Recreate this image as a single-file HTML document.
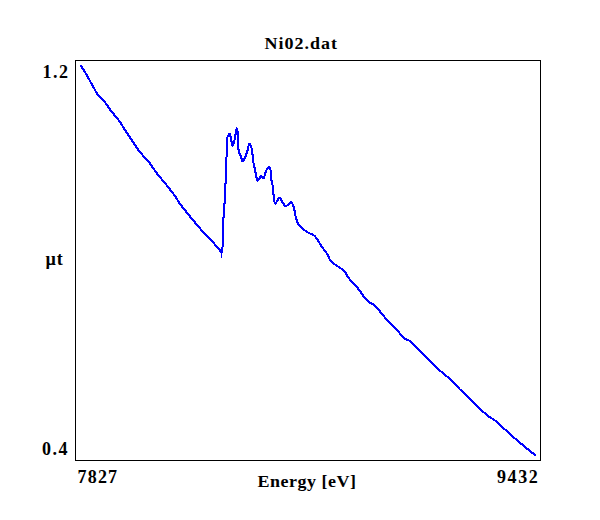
<!DOCTYPE html>
<html><head><meta charset="utf-8"><style>
html,body{margin:0;padding:0;background:#fff;width:600px;height:520px;overflow:hidden}
.t{position:absolute;font-family:"Liberation Serif",serif;font-weight:bold;font-size:18px;line-height:normal;white-space:nowrap;color:#000;transform:scaleY(0.92);transform-origin:0 2px}
svg{position:absolute;left:0;top:0}
</style></head><body>
<svg width="600" height="520" viewBox="0 0 600 520">
<rect x="75.5" y="60.5" width="465" height="400" fill="none" stroke="#000" stroke-width="1" shape-rendering="crispEdges"/>
<polyline points="81.00,66.00 85.00,72.00 90.00,81.00 95.00,90.00 97.50,94.50 102.00,98.50 107.00,105.00 111.00,111.00 117.00,118.00 120.00,122.00 125.00,130.00 131.00,139.00 139.00,151.00 150.00,163.50 158.00,175.00 165.00,183.00 175.00,196.00 180.00,204.00 190.00,216.50 200.00,228.50 212.00,241.00 221.50,252.30 222.00,249.00 223.00,245.50 223.00,218.00 224.00,217.00 224.00,204.00 225.00,203.00 225.00,184.00 226.00,183.00 226.00,158.00 227.00,156.00 227.00,138.00 227.16,137.64 227.39,137.13 227.66,136.53 227.94,135.92 228.23,135.38 228.50,135.00 228.74,134.65 228.96,134.26 229.19,133.93 229.43,133.80 229.69,133.98 230.00,134.60 230.36,135.95 230.78,138.00 231.22,140.37 231.67,142.66 232.10,144.50 232.50,145.50 232.86,145.59 233.21,145.06 233.54,144.07 233.87,142.79 234.18,141.38 234.50,140.00 234.82,138.46 235.15,136.59 235.47,134.59 235.77,132.66 236.05,130.99 236.30,129.80 236.50,129.05 236.67,128.57 236.81,128.37 236.94,128.43 237.07,128.74 237.20,129.30 237.34,130.18 237.48,131.40 237.62,132.87 237.75,134.51 237.88,136.25 238.00,138.00 238.09,139.87 238.15,141.96 238.20,144.14 238.27,146.29 238.40,148.28 238.60,150.00 238.90,151.42 239.29,152.64 239.72,153.71 240.18,154.67 240.61,155.58 241.00,156.50 241.31,157.54 241.56,158.68 241.80,159.77 242.06,160.66 242.38,161.18 242.80,161.20 243.36,160.58 244.04,159.41 244.79,157.89 245.53,156.20 246.22,154.50 246.80,153.00 247.26,151.57 247.65,150.05 247.99,148.53 248.28,147.12 248.55,145.91 248.80,145.00 249.01,144.39 249.16,143.99 249.29,143.79 249.41,143.79 249.58,143.96 249.80,144.30 250.11,144.83 250.49,145.57 250.90,146.48 251.31,147.54 251.69,148.73 252.00,150.00 252.22,151.42 252.39,153.01 252.51,154.73 252.64,156.51 252.79,158.28 253.00,160.00 253.27,161.66 253.57,163.31 253.91,164.97 254.26,166.63 254.63,168.30 255.00,170.00 255.38,171.89 255.76,174.02 256.16,176.16 256.57,178.09 257.02,179.61 257.50,180.50 258.04,180.54 258.63,179.86 259.25,178.76 259.87,177.55 260.46,176.53 261.00,176.00 261.47,176.10 261.91,176.62 262.31,177.32 262.70,177.99 263.09,178.39 263.50,178.30 263.92,177.60 264.33,176.44 264.75,175.03 265.17,173.52 265.58,172.12 266.00,171.00 266.42,170.10 266.85,169.26 267.28,168.53 267.70,167.93 268.11,167.50 268.50,167.30 268.88,167.32 269.26,167.53 269.62,167.92 269.96,168.47 270.26,169.17 270.50,170.00 270.66,171.04 270.74,172.31 270.78,173.73 270.81,175.21 270.88,176.66 271.00,178.00 271.20,179.20 271.44,180.33 271.72,181.44 272.00,182.56 272.27,183.73 272.50,185.00 272.69,186.38 272.85,187.83 273.00,189.34 273.15,190.89 273.31,192.45 273.50,194.00 273.70,195.71 273.91,197.63 274.12,199.56 274.37,201.31 274.66,202.69 275.00,203.50 275.42,203.58 275.93,203.07 276.47,202.17 277.02,201.13 277.54,200.17 278.00,199.50 278.35,199.02 278.61,198.53 278.84,198.11 279.11,197.86 279.48,197.86 280.00,198.20 280.71,199.11 281.57,200.56 282.53,202.26 283.54,203.92 284.54,205.27 285.50,206.00 286.45,205.93 287.43,205.24 288.41,204.22 289.35,203.19 290.23,202.41 291.00,202.20 291.66,202.59 292.24,203.34 292.75,204.36 293.20,205.55 293.62,206.79 294.00,208.00 294.33,209.21 294.57,210.52 294.78,211.89 294.98,213.29 295.21,214.67 295.50,216.00 295.84,217.31 296.20,218.65 296.59,219.97 297.02,221.24 297.48,222.43 298.00,223.50 298.56,224.42 299.15,225.22 299.78,225.94 300.46,226.61 301.20,227.28 302.00,228.00 302.88,228.77 303.85,229.56 304.88,230.34 305.93,231.11 306.98,231.84 308.00,232.50 309.02,233.06 310.07,233.54 311.12,233.97 312.15,234.41 313.12,234.90 314.00,235.50 314.78,236.20 315.48,236.96 316.12,237.78 316.74,238.65 317.36,239.56 318.00,240.50 318.66,241.50 319.31,242.57 319.97,243.69 320.63,244.81 321.30,245.93 322.00,247.00 322.73,248.02 323.50,249.00 324.28,249.97 325.06,250.94 325.80,251.95 326.50,253.00 327.18,254.19 327.87,255.52 328.53,256.88 329.13,258.15 329.63,259.23 330.00,260.00 335.00,264.50 341.00,268.50 345.00,272.00 348.00,277.00 351.00,281.00 356.00,286.00 360.00,291.00 364.00,297.00 369.00,302.00 374.00,305.00 378.00,309.00 382.00,314.00 387.00,320.00 394.00,327.00 400.00,333.50 405.00,339.00 409.00,340.50 412.00,342.50 420.00,351.00 430.00,361.00 441.00,371.50 450.00,379.00 460.00,389.50 470.00,399.00 480.00,409.00 488.00,416.00 495.00,420.50 505.00,429.50 515.00,438.50 525.00,447.00 535.00,455.00" fill="none" stroke="#0000ff" stroke-width="2.1" stroke-linejoin="round" stroke-linecap="round" shape-rendering="crispEdges"/>
<line x1="221.5" y1="250" x2="221.5" y2="258" stroke="#0000ff" stroke-width="1" shape-rendering="crispEdges"/>
</svg>
<div class="t" style="left:264.5px;top:34px;letter-spacing:1px">Ni02.dat</div>
<div class="t" style="left:42.5px;top:62px;transform:none;letter-spacing:1.5px">1.2</div>
<div class="t" style="left:45.5px;top:249px;letter-spacing:0.8px;transform:none">µt</div>
<div class="t" style="left:42px;top:439px;transform:none;letter-spacing:1.5px">0.4</div>
<div class="t" style="left:77.5px;top:467px;transform:none;letter-spacing:1.2px">7827</div>
<div class="t" style="left:257.5px;top:472px;letter-spacing:0.5px">Energy [eV]</div>
<div class="t" style="left:497px;top:467px;transform:none;letter-spacing:1.6px">9432</div>
</body></html>
